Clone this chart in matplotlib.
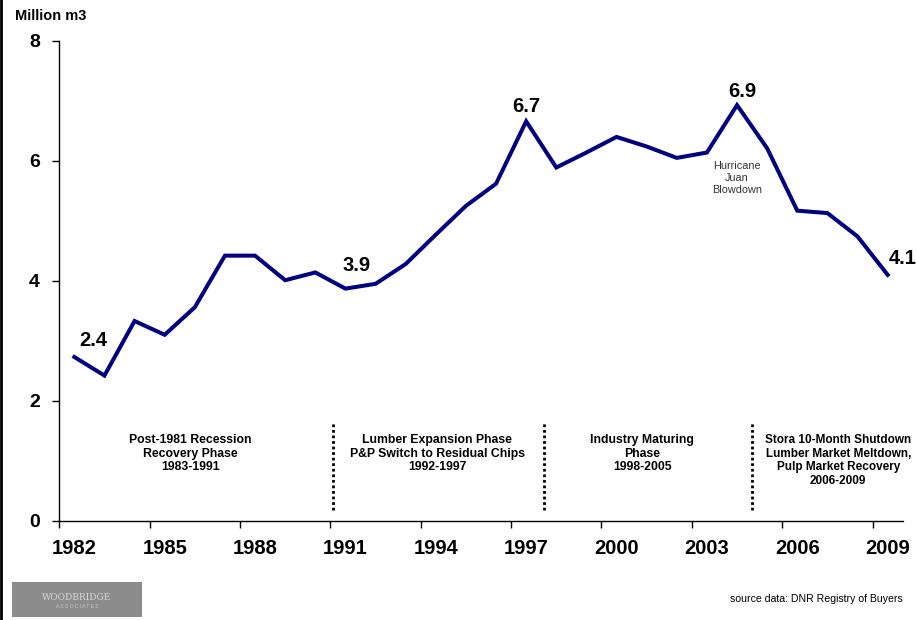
# Annual primary forest harvest, 1982-2009, with industry phases marked
import numpy as np
import matplotlib.pyplot as plt
from matplotlib.lines import Line2D
from matplotlib.patches import Rectangle
from matplotlib.ticker import FixedLocator

plt.rcParams['font.family'] = ['Liberation Sans', 'DejaVu Sans']

# harvest volume by year (million m3)
years = list(range(1982, 2010))
harvest = [2.73, 2.42, 3.33, 3.10, 3.56, 4.42, 4.42, 4.01, 4.14, 3.87,
           3.95, 4.28, 4.77, 5.25, 5.62, 6.66, 5.89, 6.14, 6.40, 6.24,
           6.05, 6.14, 6.93, 6.21, 5.17, 5.13, 4.74, 4.10]

# years whose value gets written above the line
labelled_years = [1983, 1991, 1997, 2004, 2009]

phase_texts = ["Post-1981 Recession\nRecovery Phase\n1983-1991",
               "Lumber Expansion Phase\nP&P Switch to Residual Chips\n1992-1997",
               "Industry Maturing\nPhase\n1998-2005",
               "Stora 10-Month Shutdown\nLumber Market Meltdown,\nPulp Market Recovery\n2006-2009"]

y_ticks = [0, 2, 4, 6, 8]

fig = plt.figure(figsize=(9.16, 6.2), dpi=100)
ax = fig.add_axes([0.0647, 0.1602, 0.9208, 0.7737])

x = np.arange(len(years))
ax.plot(x, harvest, color='#000080', lw=2.9, solid_joinstyle='miter')

# value labels (offsets in data units)
label_offsets = {1983: (-0.38, 0.59), 1991: (0.38, 0.39), 1997: (0.0, 0.24),
                 2004: (0.16, 0.22), 2009: (0.5, 0.28)}
for yr in labelled_years:
    i = years.index(yr)
    dx, dy = label_offsets[yr]
    ax.text(i + dx, harvest[i] + dy, f"{harvest[i]:.1f}", ha='center',
            va='center', fontsize=14.5, fontweight='bold', clip_on=False)

# phase separators
for xs in [8.59, 15.59, 22.5]:
    ax.plot([xs, xs], [0.18, 1.65], color='black', lw=2,
            linestyle=(0, (1, 1)), dash_capstyle='butt')

phase_x = [3.86, 12.04, 18.85, 25.36]
phase_size = [8.8, 8.8, 8.8, 8.5]
for px, txt, fs in zip(phase_x, phase_texts, phase_size):
    ax.text(px, 1.45, txt, ha='center', va='top', fontsize=fs,
            fontweight='bold', linespacing=1.2, clip_on=False)

ax.text(22.0, 5.72, "Hurricane\nJuan\nBlowdown", ha='center', va='center',
        fontsize=7.8, color='#333333', linespacing=1.25)

# axes styling
ax.set_xlim(-0.5, len(years) - 0.5)
ax.set_ylim(0, 8)
ax.spines['top'].set_visible(False)
ax.spines['right'].set_visible(False)
ax.spines['left'].set_linewidth(1)
ax.spines['bottom'].set_linewidth(1)

ax.set_xticks(x[::3])
ax.set_xticklabels([str(y) for y in years[::3]], fontsize=14.5,
                   fontweight='bold')
ax.xaxis.set_minor_locator(FixedLocator(np.arange(-0.5, len(years) - 1, 3)))
ax.tick_params(axis='x', which='major', length=0, pad=13)
ax.tick_params(axis='x', which='minor', length=5, width=1, direction='out')

ax.set_yticks(y_ticks)
ax.set_yticklabels([str(v) for v in y_ticks], fontsize=14, fontweight='bold')
ax.tick_params(axis='y', length=5, width=1, direction='out', pad=9)

fig.text(15 / 916, 1 - 16 / 620, "Million m3", ha='left', va='center',
         fontsize=10.5, fontweight='bold')

fig.text(903 / 916, 1 - 599 / 620, "source data: DNR Registry of Buyers",
         ha='right', va='center', fontsize=7.6)

# logo block
fig.add_artist(Rectangle((12 / 916, 1 - 617 / 620), 130 / 916, 35 / 620,
                         transform=fig.transFigure, facecolor='#8c8c8c',
                         edgecolor='none'))
fig.text(77 / 916, 1 - 597 / 620, "WOODBRIDGE", ha='center', va='center',
         fontsize=6.5, color='#d8d8d8', family='DejaVu Serif')
fig.text(77 / 916, 1 - 606 / 620, "A S S O C I A T E S", ha='center',
         va='center', fontsize=3.5, color='#c8c8c8')

# left frame edge
fig.add_artist(Line2D([0.0015, 0.0015], [0, 1], transform=fig.transFigure,
                      color='black', lw=2))

fig.savefig("out.png", dpi=100)
